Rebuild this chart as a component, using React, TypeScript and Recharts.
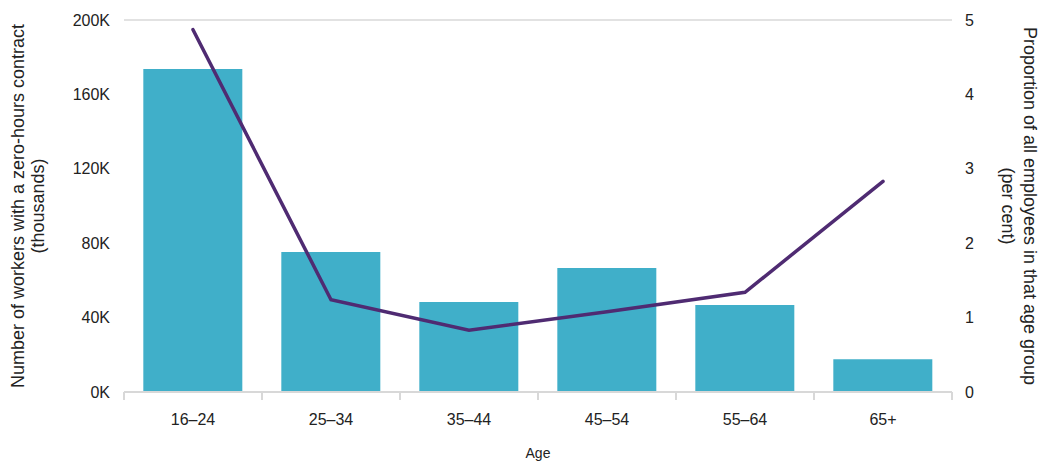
import React from 'react';
import { ComposedChart, Bar, Line, XAxis, YAxis, CartesianGrid } from 'recharts';

const ageGroups = ['16–24', '25–34', '35–44', '45–54', '55–64', '65+'];
const workersThousands = [173.6, 75.3, 48.4, 66.7, 46.8, 17.6];
const proportionPct = [4.87, 1.24, 0.83, 1.08, 1.34, 2.83];
const leftTicks = [0, 40, 80, 120, 160, 200];
const rightTicks = [0, 1, 2, 3, 4, 5];

const data = ageGroups.map((age, i) => ({
  age,
  workers: workersThousands[i],
  proportion: proportionPct[i],
}));

const FONT = '"Liberation Sans", Arial, sans-serif';
const TEXT = '#222';
const GRID = '#d8d8d8';

function AgeTick(props: any) {
  const { x, y, payload, index, visibleTicksCount } = props;
  const half = payload.offset ?? 69;
  const axisY = y - 21;
  return (
    <g>
      <line x1={x - half} x2={x - half} y1={axisY} y2={axisY + 8} stroke={GRID} strokeWidth={2} />
      {index === visibleTicksCount - 1 && (
        <line x1={x + half} x2={x + half} y1={axisY} y2={axisY + 8} stroke={GRID} strokeWidth={2} />
      )}
      <text x={x} y={y + 12} textAnchor="middle" fill={TEXT} fontSize={16} fontFamily={FONT}>
        {payload.value}
      </text>
    </g>
  );
}

function TwoLineLabel({ viewBox, cxOffset, lines, rotate, gap }: any) {
  const cx = viewBox.x + cxOffset;
  const cy = viewBox.y + viewBox.height / 2;
  return (
    <text
      transform={`rotate(${rotate}, ${cx}, ${cy})`}
      textAnchor="middle"
      fill={TEXT}
      fontSize={18}
      fontFamily={FONT}
    >
      <tspan x={cx} y={cy - gap + 6}>{lines[0]}</tspan>
      <tspan x={cx} y={cy + gap + 6}>{lines[1]}</tspan>
    </text>
  );
}

export default function App() {
  return (
    <div style={{ position: 'absolute', left: 0, top: 0, background: '#fff' }}>
      <ComposedChart
        width={1050}
        height={464}
        data={data}
        margin={{ top: 20, right: 0, bottom: 0, left: 0 }}
        barCategoryGap="14%"
      >
        <CartesianGrid vertical={false} stroke={GRID} strokeWidth={1.5} />
        <XAxis
          dataKey="age"
          height={72}
          axisLine={{ stroke: GRID, strokeWidth: 2 }}
          tickLine={false}
          tickSize={8}
          tickMargin={13}
          tick={<AgeTick />}
          label={{
            value: 'Age',
            position: 'insideBottom',
            offset: 6,
            fill: TEXT,
            fontSize: 14,
            fontFamily: FONT,
          }}
        />
        <YAxis
          yAxisId="left"
          width={124}
          domain={[0, 200]}
          ticks={leftTicks}
          tickFormatter={(v: number) => `${v}K`}
          axisLine={false}
          tickLine={false}
          tickSize={6}
          tickMargin={8}
          tick={{ fill: TEXT, fontSize: 16, fontFamily: FONT }}
          label={(p: any) => (
            <TwoLineLabel
              viewBox={p.viewBox}
              cxOffset={27.5}
              rotate={-90}
              gap={10}
              lines={['Number of workers with a zero-hours contract', '(thousands)']}
            />
          )}
        />
        <YAxis
          yAxisId="right"
          orientation="right"
          width={98}
          domain={[0, 5]}
          ticks={rightTicks}
          axisLine={false}
          tickLine={false}
          tickSize={6}
          tickMargin={7}
          tick={{ fill: TEXT, fontSize: 16, fontFamily: FONT, textAnchor: 'start' }}
          label={(p: any) => (
            <TwoLineLabel
              viewBox={p.viewBox}
              cxOffset={67}
              rotate={90}
              gap={11}
              lines={['Proportion of all employees in that age group', '(per cent)']}
            />
          )}
        />
        <Bar yAxisId="left" dataKey="workers" fill="#40AFC9" isAnimationActive={false} />
        <Line
          yAxisId="right"
          dataKey="proportion"
          stroke="#4F2B72"
          strokeWidth={3.5}
          strokeLinecap="round"
          dot={false}
          activeDot={false}
          type="linear"
          isAnimationActive={false}
        />
      </ComposedChart>
    </div>
  );
}
